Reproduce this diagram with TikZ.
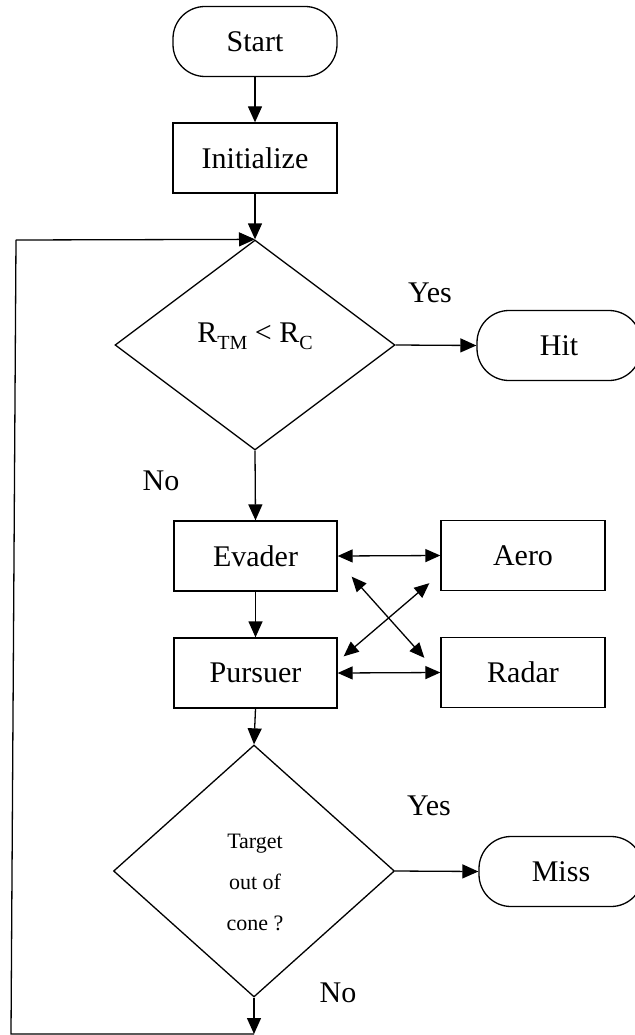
\documentclass[tikz,border=0pt]{standalone}
\usepackage{fontspec}
\setmainfont{Liberation Serif}
\usetikzlibrary{shapes.geometric,arrows.meta,calc}
% lowered, smaller subscript text
\newcommand\lowsub[1]{\raisebox{-0.22em}{\fontsize{20}{20}\selectfont #1}}
\begin{document}
\begin{tikzpicture}[x=1pt,y=-1pt,
  every node/.style={font=\fontsize{30}{36}\selectfont},
  flow/.style={line width=1.3pt,-{Triangle[length=16pt,width=14pt]}},
  plain/.style={line width=1.3pt},
  twoway/.style={line width=1.3pt,{Triangle[length=15pt,width=13pt]}-{Triangle[length=15pt,width=13pt]}},
  box/.style={draw,line width=1.3pt,minimum width=164pt,minimum height=70pt,inner sep=0pt},
  term/.style={box,rounded corners=32pt},
  decision/.style={draw,diamond,line width=1.3pt,inner sep=0pt}
]
\useasboundingbox (0,0) rectangle (634,1035);

% main column
\node[term] (start) at (255,41.5) {Start};
\node[box] (init) at (255,158) {Initialize};
\node[decision,minimum width=280pt,minimum height=210pt] (d1) at (255,345) {};
\node (d1t) at (255,336) {R\lowsub{TM} < R\lowsub{C}};
\node[term] (hit) at (559,345.5) {Hit};
\node[box,minimum width=163pt] (evader) at (255.5,556) {Evader};
\node[box] (aero) at (523,555.5) {Aero};
\node[box,minimum width=163pt] (pursuer) at (255.5,673) {Pursuer};
\node[box] (radar) at (523,672.5) {Radar};
\node[decision,minimum width=281pt,minimum height=252pt] (d2) at (254,871) {};
\node[font=\fontsize{22}{41}\selectfont,align=center] (d2t) at (255,882) {Target\\out of\\cone ?};
\node[term] (miss) at (561,871.5) {Miss};

% branch labels
\node (yes1) at (430,293) {Yes};
\node (no1) at (161,481) {No};
\node (yes2) at (429,806) {Yes};
\node (no2) at (338,993) {No};

% loop-back corners
\coordinate (lb) at (254,1034);
\coordinate (ll) at (11,1034);
\coordinate (lt) at (16,240);

% connectors
\draw[flow] (start) -- (init);
\draw[flow] (init) -- (d1.north);
\draw[flow] (d1.east) -- (hit.west);
\draw[flow] (d1.south) -- (evader.north);
\draw[flow] (evader) -- (pursuer);
\draw[flow] (pursuer.south) -- (d2.north);
\draw[flow] (d2.east) -- (miss.west);
\draw[flow] (d2.south) -- (lb);
\draw[plain] (lb) -- (ll) -- (lt);
\draw[flow] (lt) -- (d1.north);

\draw[twoway] (evader.east) -- (aero.west);
\draw[twoway] (pursuer.east) -- (radar.west);
\draw[twoway] ($(evader.south east)+(14,-15)$) -- ($(radar.north west)+(-16,21)$);
\draw[twoway] ($(aero.south west)+(-11,-8)$) -- ($(pursuer.north east)+(6,19)$);
\end{tikzpicture}
\end{document}
